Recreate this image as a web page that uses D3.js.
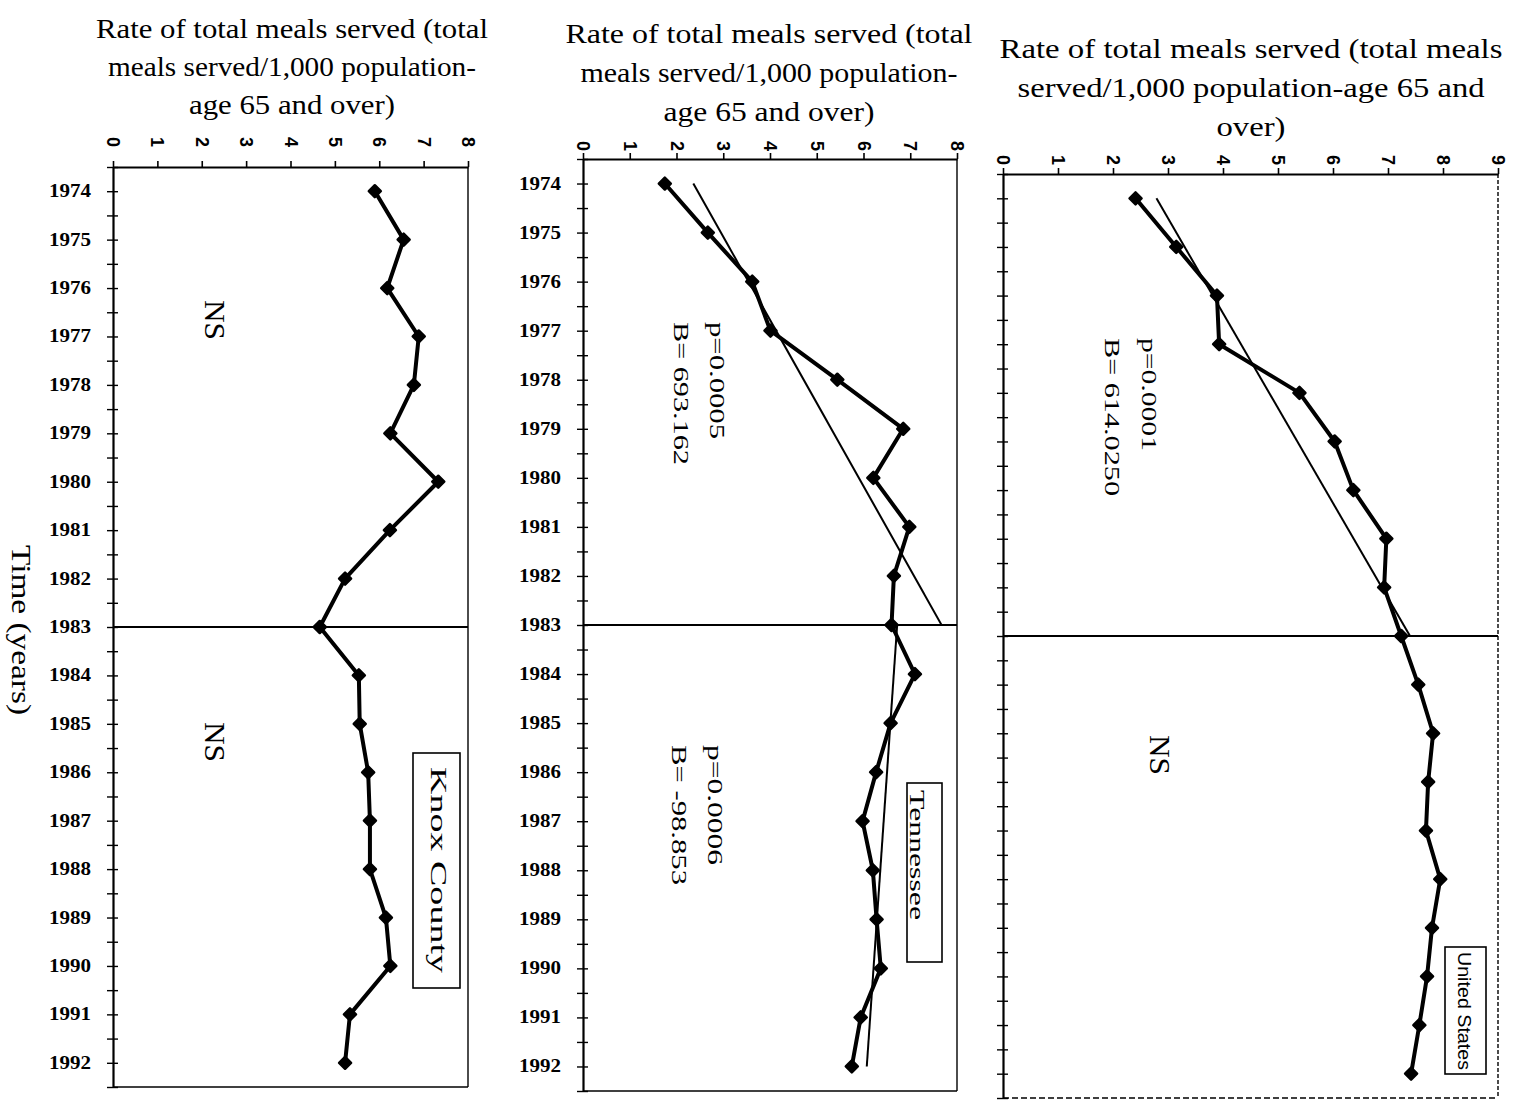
<!DOCTYPE html>
<html>
<head>
<meta charset="utf-8">
<script src="https://cdn.jsdelivr.net/npm/d3@7"></script>
<style>
  html, body { margin: 0; background: #fff; }
  svg { display: block; }
</style>
</head>
<body>
<svg id="chart" width="1516" height="1101"></svg>
<script>
// ---- data: meals served per 1,000 population aged 65+, by year ----
const years = [1974, 1975, 1976, 1977, 1978, 1979, 1980, 1981, 1982, 1983,
               1984, 1985, 1986, 1987, 1988, 1989, 1990, 1991, 1992];
const knoxRates = [5.90, 6.55, 6.18, 6.89, 6.78, 6.25, 7.33, 6.24, 5.23, 4.66,
                   5.54, 5.56, 5.75, 5.79, 5.79, 6.15, 6.25, 5.34, 5.23];
const tennesseeRates = [1.75, 2.67, 3.62, 4.01, 5.44, 6.85, 6.21, 6.98, 6.65, 6.60,
                        7.10, 6.58, 6.27, 5.98, 6.20, 6.28, 6.37, 5.94, 5.75];
const usRates = [2.41, 3.15, 3.89, 3.93, 5.39, 6.03, 6.37, 6.97, 6.93, 7.24,
                 7.55, 7.82, 7.73, 7.69, 7.95, 7.80, 7.71, 7.57, 7.42];

// fitted regression segments [year, rate]
const tennesseeTrendBefore = [[1974, 2.36], [1983, 7.67]];
const tennesseeTrendAfter  = [[1983, 6.72], [1992, 6.07]];
const usTrendBefore        = [[1974, 2.79], [1983, 7.40]];

const breakYear = 1983;

// tick labels of the rate axes
const rateTicksEight = [0, 1, 2, 3, 4, 5, 6, 7, 8];
const rateTicksNine  = [0, 1, 2, 3, 4, 5, 6, 7, 8, 9];

// axis titles
const titleKnox = ["Rate of total meals served (total", "meals served/1,000 population-", "age 65 and over)"];
const titleTennessee = ["Rate of total meals served (total", "meals served/1,000 population-", "age 65 and over)"];
const titleUS = ["Rate of total meals served (total meals", "served/1,000 population-age 65 and", "over)"];
const timeLabel = "Time (years)";

// ---- drawing ----
const svg = d3.select("#chart");
const SERIF = "'Liberation Serif', 'Times New Roman', Times, serif";
const SANS = "'Liberation Sans', Arial, Helvetica, sans-serif";

// text rotated a quarter turn clockwise; (bx, sy) = baseline x, start y
function vText(g, bx, sy, str, size, family, len, anchor) {
  const t = g.append("text")
    .attr("transform", `translate(${bx},${sy}) rotate(90)`)
    .attr("text-anchor", anchor || "start")
    .style("font-family", family)
    .style("font-size", size + "px")
    .attr("fill", "#000")
    .text(str);
  if (len) t.attr("textLength", len).attr("lengthAdjust", "spacingAndGlyphs");
  return t;
}

function drawPanel(cfg) {
  const g = svg.append("g");
  const x = d3.scaleLinear().domain([0, cfg.max]).range([cfg.left, cfg.right]);
  const y = d3.scaleLinear().domain([years[0] - 0.5, years[years.length - 1] + 0.5])
    .range([cfg.top, cfg.bottom]);

  // title lines
  cfg.title.forEach((line, i) => {
    g.append("text")
      .attr("x", cfg.titleX)
      .attr("y", cfg.titleY[i])
      .attr("text-anchor", "middle")
      .style("font-family", SERIF)
      .style("font-size", "28px")
      .attr("textLength", cfg.titleLen[i])
      .attr("lengthAdjust", "spacingAndGlyphs")
      .text(line);
  });

  // right and bottom frame
  g.append("line").attr("x1", cfg.right).attr("x2", cfg.right)
    .attr("y1", cfg.top).attr("y2", cfg.bottom)
    .attr("stroke", "#000").attr("stroke-width", 1.4)
    .attr("stroke-dasharray", cfg.dashedFrame ? "4,2" : null);
  g.append("line").attr("x1", cfg.left).attr("x2", cfg.right)
    .attr("y1", cfg.bottom).attr("y2", cfg.bottom)
    .attr("stroke", "#000").attr("stroke-width", 1.4)
    .attr("stroke-dasharray", cfg.dashedFrame ? "6,3" : null);

  // rate axis along the top
  const top = g.append("g").attr("transform", `translate(0,${cfg.top})`)
    .call(d3.axisTop(x).tickValues(cfg.ticks).tickSize(6).tickSizeOuter(0).tickFormat(""));
  top.select(".domain").attr("stroke-width", 2.2);
  top.selectAll(".tick line").attr("stroke-width", 1.6);
  cfg.ticks.forEach(v => {
    vText(g, x(v) - 6, cfg.top - cfg.tickLabelGap, String(v), 18, SANS, null, "middle")
      .style("font-weight", "bold");
  });

  // year axis along the left, ticks crossing the line
  const halfYears = years.flatMap(yr => [yr - 0.5, yr]).concat([years[years.length - 1] + 0.5]);
  const left = g.append("g").attr("transform", `translate(${cfg.left},0)`)
    .call(d3.axisLeft(y).tickValues(halfYears).tickSize(6).tickSizeOuter(0).tickFormat(""));
  left.select(".domain").attr("stroke-width", 2.2);
  left.selectAll(".tick line").attr("x1", 5).attr("stroke-width", 1.4);
  if (cfg.yearLabels) {
    years.forEach(yr => {
      g.append("text")
        .attr("x", cfg.left - 22)
        .attr("y", y(yr) + 6)
        .attr("text-anchor", "end")
        .style("font-family", SERIF)
        .style("font-weight", "bold")
        .style("font-size", "18px")
        .attr("textLength", 42)
        .attr("lengthAdjust", "spacingAndGlyphs")
        .text(yr);
    });
  }

  // break line at 1983
  g.append("line").attr("x1", cfg.left).attr("x2", cfg.right)
    .attr("y1", y(breakYear)).attr("y2", y(breakYear))
    .attr("stroke", "#000").attr("stroke-width", 2.2);

  // regression segments
  cfg.trends.forEach(seg => {
    g.append("path")
      .attr("d", d3.line().x(d => x(d[1])).y(d => y(d[0]))(seg))
      .attr("fill", "none").attr("stroke", "#000").attr("stroke-width", 2);
  });

  // observed series
  const pts = years.map((yr, i) => [yr, cfg.values[i]]);
  g.append("path")
    .attr("d", d3.line().x(d => x(d[1])).y(d => y(d[0]))(pts))
    .attr("fill", "none").attr("stroke", "#000").attr("stroke-width", 4)
    .attr("stroke-linejoin", "round");
  g.selectAll(".mk").data(pts).enter().append("path")
    .attr("d", d3.symbol().type(d3.symbolSquare).size(72))
    .attr("transform", d => `translate(${x(d[1])},${y(d[0])}) rotate(45)`)
    .attr("fill", "#000").attr("stroke", "#000").attr("stroke-width", 2.5)
    .attr("stroke-linejoin", "round");

  // annotations
  cfg.notes.forEach(n => vText(g, n.bx, n.sy, n.text, n.size, SERIF, n.len));

  // legend box
  const L = cfg.legend;
  g.append("rect").attr("x", L.x).attr("y", L.y).attr("width", L.w).attr("height", L.h)
    .attr("fill", "#fff").attr("stroke", "#000").attr("stroke-width", 1.6);
  vText(g, L.bx, L.sy, L.text, L.size, L.family, L.len);
}

drawPanel({
  left: 113, right: 468, top: 167, bottom: 1087, max: 8, ticks: rateTicksEight,
  tickLabelGap: 25, yearLabels: true, values: knoxRates, trends: [],
  title: titleKnox, titleX: 292, titleY: [38, 76, 114], titleLen: [392, 368, 206],
  notes: [
    { bx: 205, sy: 300, text: "NS", size: 30, len: 40 },
    { bx: 205, sy: 722, text: "NS", size: 30, len: 40 }
  ],
  legend: { x: 413, y: 753, w: 47, h: 235, bx: 431, sy: 767, text: "Knox County", size: 24, family: SERIF, len: 206 }
});

drawPanel({
  left: 583, right: 957, top: 159, bottom: 1091, max: 8, ticks: rateTicksEight,
  tickLabelGap: 13, yearLabels: true, values: tennesseeRates,
  trends: [tennesseeTrendBefore, tennesseeTrendAfter],
  title: titleTennessee, titleX: 769, titleY: [43, 82, 121], titleLen: [407, 377, 211],
  notes: [
    { bx: 710, sy: 322, text: "p=0.0005", size: 22, len: 117 },
    { bx: 674, sy: 322, text: "B= 693.162", size: 22, len: 143 },
    { bx: 708, sy: 745, text: "p=0.0006", size: 22, len: 120 },
    { bx: 672, sy: 745, text: "B= -98.853", size: 22, len: 140 }
  ],
  legend: { x: 907, y: 783, w: 35, h: 179, bx: 910, sy: 790, text: "Tennessee", size: 22, family: SERIF, len: 130 }
});

drawPanel({
  left: 1003, right: 1498, top: 174, bottom: 1098, max: 9, ticks: rateTicksNine,
  tickLabelGap: 14, yearLabels: false, values: usRates,
  trends: [usTrendBefore], dashedFrame: true,
  title: titleUS, titleX: 1251, titleY: [58, 97, 136], titleLen: [503, 467, 69],
  notes: [
    { bx: 1142, sy: 338, text: "p=0.0001", size: 22, len: 113 },
    { bx: 1105, sy: 338, text: "B= 614.0250", size: 22, len: 158 },
    { bx: 1150, sy: 735, text: "NS", size: 30, len: 40 }
  ],
  legend: { x: 1445, y: 947, w: 41, h: 127, bx: 1458, sy: 952, text: "United States", size: 19, family: SANS, len: 118 }
});

// shared time axis title
vText(svg, 12, 545, timeLabel, 28, SERIF, 170);
</script>
</body>
</html>
